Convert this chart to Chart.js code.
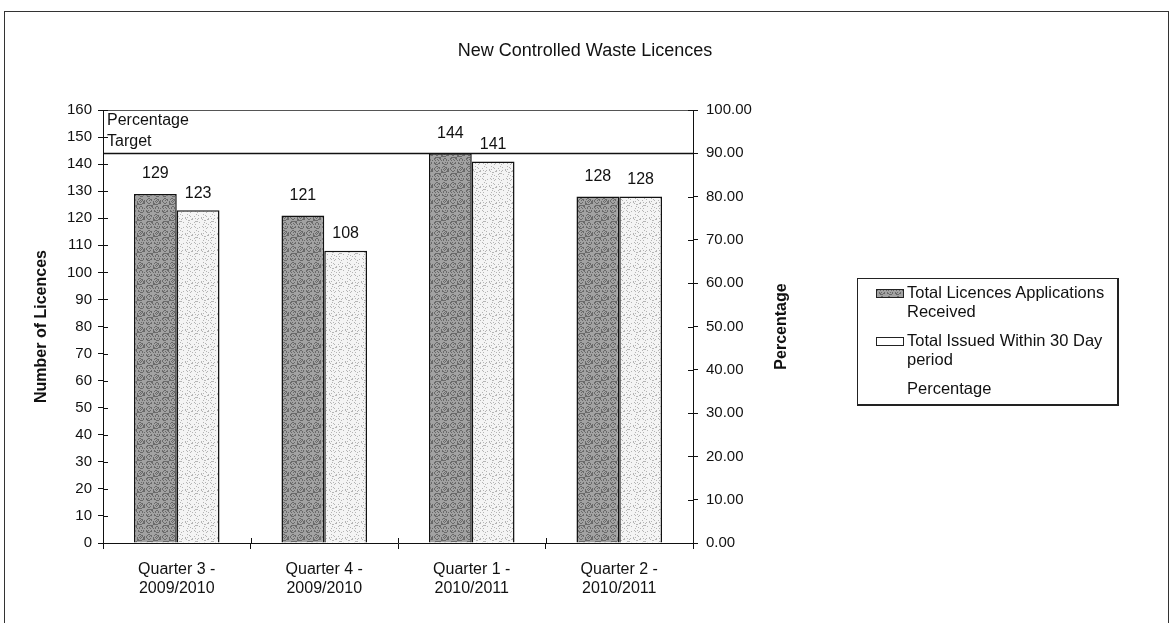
<!DOCTYPE html>
<html>
<head>
<meta charset="utf-8">
<script src="https://cdn.jsdelivr.net/npm/chart.js@4.4.0/dist/chart.umd.min.js"></script>
<style>
  body { margin: 0; background: #fff; font-family: "Liberation Sans", Arial, sans-serif; }
  #frame { position: absolute; left: 4px; top: 11px; width: 1163px; height: 640px; border: 1px solid #333; }
  #wrap { position: absolute; left: 0; top: 0; width: 1171px; height: 623px; }
  #legenda { position: absolute; left: 857px; top: 278px; width: 259px; height: 125px;
    border: 1px solid #222; border-right-width: 2px; border-bottom-width: 2px; font-size: 16.5px; color: #111; }
  .item { position: absolute; left: 18px; }
  .marca { position: absolute; left: 0; top: 6px; width: 26px; height: 7px; border: 1px solid #222; }
  .texto { position: absolute; left: 31px; top: 0; width: 225px; line-height: 19px; white-space: nowrap; }
</style>
</head>
<body>
<div id="frame"></div>
<div id="wrap"><canvas id="grafico" width="1171" height="623"></canvas></div>
<div id="legenda">
  <div class="item" style="top:4px"><div class="marca" id="marca1"></div><div class="texto">Total Licences Applications<br>Received</div></div>
  <div class="item" style="top:52px"><div class="marca" style="background:#fff"></div><div class="texto">Total Issued Within 30 Day<br>period</div></div>
  <div class="item" style="top:100px"><div class="texto">Percentage</div></div>
</div>
<script>
// Dados do gráfico
const trimestres = [
  ['Quarter 3 -', '2009/2010'],
  ['Quarter 4 -', '2009/2010'],
  ['Quarter 1 -', '2010/2011'],
  ['Quarter 2 -', '2010/2011']
];
const recebidas = [129, 121, 144, 128];   // Total Licences Applications Received
const emitidas = [123, 108, 141, 128];    // Total Issued Within 30 Day period
const percentagem = [null, null, null, null]; // série sem marcas visíveis
const metaPercentagem = 90;               // Percentage Target

const fonte = '"Liberation Sans", Arial, sans-serif';

// Textura pontilhada parecida com a do original
function criarPadrao(base, ponto, densidade) {
  const c = document.createElement('canvas');
  c.width = 16; c.height = 16;
  const g = c.getContext('2d');
  g.fillStyle = base;
  g.fillRect(0, 0, 16, 16);
  g.fillStyle = ponto;
  for (let x = 0; x < 16; x++) {
    for (let y = 0; y < 16; y++) {
      if ((x * 37 + y * 91 + x * y * 13) % 100 < densidade) g.fillRect(x, y, 1, 1);
    }
  }
  return c;
}
const texEscura = criarPadrao('#a2a2a2', '#6a6a6a', 35);
const texClara = criarPadrao('#f4f4f4', '#b5b5b5', 14);
document.getElementById('marca1').style.background = 'url(' + texEscura.toDataURL() + ')';

const ctx = document.getElementById('grafico').getContext('2d');
const padEscuro = ctx.createPattern(texEscura, 'repeat');
const padClaro = ctx.createPattern(texClara, 'repeat');

// Título, rótulos, linha de meta e marcas cruzadas dos eixos
const extras = {
  id: 'extras',
  afterDatasetsDraw(chart) {
    const g = chart.ctx;
    const area = chart.chartArea;
    const sy = chart.scales.y, sy1 = chart.scales.y1, sx = chart.scales.x;
    g.save();
    // título
    g.fillStyle = '#111';
    g.font = '18px ' + fonte;
    g.textAlign = 'center';
    g.textBaseline = 'middle';
    g.fillText('New Controlled Waste Licences', 585, 51);

    // título do eixo direito (lido de baixo para cima)
    g.save();
    g.translate(782, (area.top + area.bottom) / 2);
    g.rotate(-Math.PI / 2);
    g.font = 'bold 16px ' + fonte;
    g.fillText('Percentage', 0, 0);
    g.restore();

    // borda superior da área
    g.strokeStyle = '#555';
    g.lineWidth = 1;
    g.beginPath();
    g.moveTo(area.left, area.top + 0.5);
    g.lineTo(area.right, area.top + 0.5);
    g.stroke();

    // linha da meta
    const ym = Math.round(sy1.getPixelForValue(metaPercentagem)) + 0.5;
    g.strokeStyle = '#111';
    g.lineWidth = 1.5;
    g.beginPath();
    g.moveTo(area.left, ym);
    g.lineTo(area.right, ym);
    g.stroke();
    g.font = '16px ' + fonte;
    g.textAlign = 'left';
    g.fillText('Percentage', area.left + 4, area.top + 11);
    g.fillText('Target', area.left + 4, area.top + 32);

    // valores sobre as barras
    g.font = '16px ' + fonte;
    g.textAlign = 'center';
    g.textBaseline = 'bottom';
    [0, 1].forEach(d => {
      chart.getDatasetMeta(d).data.forEach((bar, i) => {
        g.fillText(String(chart.data.datasets[d].data[i]), bar.x, bar.y - (d === 0 ? 12 : 9));
      });
    });

    // marcas para dentro da área
    g.strokeStyle = '#111';
    g.lineWidth = 1;
    g.beginPath();
    sy.ticks.forEach((t, i) => {
      const y = Math.round(sy.getPixelForTick(i)) + 0.5;
      g.moveTo(area.left, y); g.lineTo(area.left + 5, y);
    });
    sy1.ticks.forEach((t, i) => {
      const y = Math.round(sy1.getPixelForTick(i)) + 0.5;
      g.moveTo(area.right - 5, y); g.lineTo(area.right, y);
    });
    const n = sx.ticks.length;
    const passo = (sx.getPixelForTick(1) - sx.getPixelForTick(0));
    for (let i = 0; i <= n; i++) {
      const x = Math.round(sx.getPixelForTick(0) - passo / 2 + i * passo) + 0.5;
      g.moveTo(x, area.bottom - 5); g.lineTo(x, area.bottom);
    }
    g.stroke();
    g.restore();
  }
};

new Chart(ctx, {
  data: {
    labels: trimestres,
    datasets: [
      {
        type: 'bar',
        label: 'Total Licences Applications Received',
        data: recebidas,
        backgroundColor: padEscuro,
        borderColor: '#111',
        borderWidth: 1.5,
        yAxisID: 'y',
        barPercentage: 1,
        categoryPercentage: 0.58
      },
      {
        type: 'bar',
        label: 'Total Issued Within 30 Day period',
        data: emitidas,
        backgroundColor: padClaro,
        borderColor: '#111',
        borderWidth: 1.5,
        yAxisID: 'y',
        barPercentage: 1,
        categoryPercentage: 0.58
      },
      {
        type: 'line',
        label: 'Percentage',
        data: percentagem,
        borderColor: 'rgba(0,0,0,0)',
        pointRadius: 0,
        yAxisID: 'y1'
      }
    ]
  },
  options: {
    responsive: false,
    animation: false,
    layout: { padding: { left: 0, right: 381, top: 110, bottom: 0 } },
    plugins: {
      legend: { display: false },
      title: { display: false },
      tooltip: { enabled: false }
    },
    scales: {
      x: {
        grid: { offset: true, drawOnChartArea: false, drawTicks: true, tickLength: 6, color: '#111' },
        border: { display: true, color: '#111', width: 1 },
        ticks: { color: '#111', font: { family: fonte, size: 16 }, padding: 11, maxRotation: 0 },
        afterFit(s) { s.height = 80; }
      },
      y: {
        position: 'left',
        min: 0, max: 160,
        grid: { drawOnChartArea: false, tickLength: 5, color: '#111' },
        border: { display: true, color: '#111', width: 1 },
        ticks: { stepSize: 10, color: '#111', font: { family: fonte, size: 15 }, padding: 6 },
        title: {
          display: true, text: 'Number of Licences', color: '#111',
          font: { family: fonte, size: 16, weight: 'bold' }, padding: { top: 32, bottom: 0 }
        },
        afterFit(s) { s.width = 103; }
      },
      y1: {
        position: 'right',
        min: 0, max: 100,
        grid: { drawOnChartArea: false, tickLength: 5, color: '#111' },
        border: { display: true, color: '#111', width: 1 },
        ticks: { stepSize: 10, color: '#111', font: { family: fonte, size: 15 }, padding: 8,
          callback: v => v.toFixed(2) },
        afterFit(s) { s.width = 97; }
      }
    }
  },
  plugins: [extras]
});
</script>
</body>
</html>
